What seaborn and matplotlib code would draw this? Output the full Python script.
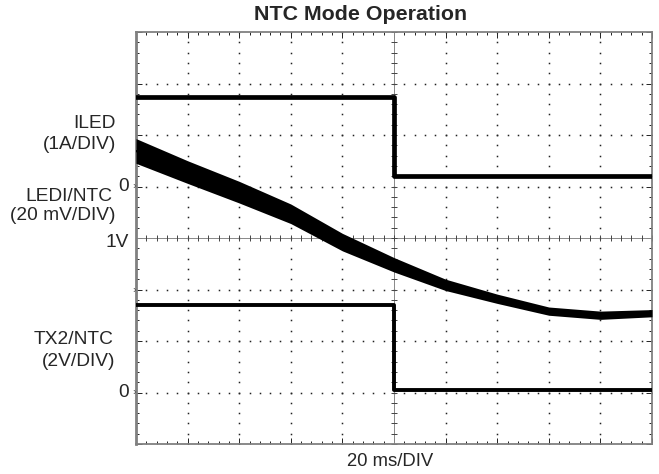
import numpy as np
import pandas as pd
import matplotlib
matplotlib.use("Agg")
import matplotlib.pyplot as plt
import seaborn as sns

# ---- data (screen divisions: x 0..10 = 20 ms/DIV, y 0..8) ----
x_div = [0, 1, 2, 3, 4, 5, 6, 7, 8, 9, 10]
# LEDI/NTC trace: centre of the noisy band and its half-thickness
ledi_center = [5.69, 5.28, 4.89, 4.47, 3.92, 3.48, 3.09, 2.82, 2.58, 2.50, 2.54]
ledi_half = [0.24, 0.22, 0.21, 0.19, 0.17, 0.14, 0.11, 0.09, 0.08, 0.08, 0.07]

step_time = [0, 5, 5, 10]
iled_level = [6.74, 6.74, 5.20, 5.20]      # ILED (1 A/DIV), zero at 5 div
tx2_level = [2.70, 2.70, 1.05, 1.05]       # TX2/NTC (2 V/DIV), zero at 1 div

ch_labels = ["ILED", "(1A/DIV)", "LEDI/NTC", "(20 mV/DIV)", "TX2/NTC", "(2V/DIV)"]
ref_labels = ["0", "1V", "0"]
ref_levels = [5.0, 3.92, 1.0]
marker_levels = [5.0, 3.0, 1.0]

sns.set_theme(style="white")
plt.rcParams["font.family"] = ["Liberation Sans", "DejaVu Sans"]

fig = plt.figure(figsize=(6.59, 4.74), dpi=100)
ax = fig.add_axes([136 / 659, 1 - 444 / 474, 516 / 659, 412 / 474])
ax.set_xlim(0, 10)
ax.set_ylim(0, 8)

# dotted graticule
fine = np.arange(0, 10.001, 0.2)
fine_y = np.arange(0, 8.001, 0.2)
for yv in [1, 2, 3, 5, 6, 7]:
    ax.plot(fine, np.full_like(fine, yv), ls="none", marker="s", ms=1.1,
            color="#222222", mew=0, zorder=1)
for xv in [1, 2, 3, 4, 6, 7, 8, 9]:
    ax.plot(np.full_like(fine_y, xv), fine_y, ls="none", marker="s", ms=1.1,
            color="#222222", mew=0, zorder=1)
# centre crosshair with minor ticks
ax.axhline(4, color="#888888", lw=0.7, zorder=1)
ax.axvline(5, color="#888888", lw=0.7, zorder=1)
ax.plot(fine, np.full_like(fine, 4), ls="none", marker="|", ms=4, mew=0.7,
        color="#444444", zorder=1)
ax.plot(np.full_like(fine_y, 5), fine_y, ls="none", marker="_", ms=4, mew=0.7,
        color="#444444", zorder=1)

# traces
df_led = pd.DataFrame({"t": x_div, "v": ledi_center})
lo = np.array(ledi_center) - np.array(ledi_half)
hi = np.array(ledi_center) + np.array(ledi_half)
ax.fill_between(x_div, lo, hi, color="black", lw=0, zorder=3)
sns.lineplot(data=df_led, x="t", y="v", ax=ax, color="black", lw=1.5, zorder=3)

df_i = pd.DataFrame({"t": step_time, "v": iled_level})
df_t = pd.DataFrame({"t": step_time, "v": tx2_level})
sns.lineplot(data=df_i, x="t", y="v", ax=ax, color="black", lw=3.4,
             sort=False, estimator=None, zorder=3)
sns.lineplot(data=df_t, x="t", y="v", ax=ax, color="black", lw=2.8,
             sort=False, estimator=None, zorder=3)
# thin vertical edges
ax.plot([5, 5], [iled_level[1], iled_level[2]], color="black", lw=1.0, zorder=4)
ax.plot([5, 5], [tx2_level[1], tx2_level[2]], color="black", lw=1.0, zorder=4)

# frame and inward ticks
for s in ax.spines.values():
    s.set_color("#808080")
    s.set_linewidth(1.3)
ax.spines["left"].set_linewidth(2.0)
ax.set_xticks(range(0, 11))
ax.set_yticks(range(0, 9))
ax.set_xticks(fine, minor=True)
ax.set_yticks(fine_y, minor=True)
ax.tick_params(which="both", direction="in", top=True, right=True, bottom=True,
               left=True, labelbottom=False, labelleft=False, color="#222222",
               width=0.7)
ax.tick_params(which="major", length=4)
ax.tick_params(which="minor", length=2.5)
ax.set_xlabel("")
ax.set_ylabel("")

# chevrons at channel references
for yv in marker_levels:
    fig.text(134 / 659, 1 - (444 - yv * 51.5) / 474, "›", fontsize=8,
             color="#555555", ha="center", va="center")

# labels (figure pixel coordinates)
def ftxt(xp, yp, s, **kw):
    fig.text(xp / 659, 1 - yp / 474, s, **kw)

fs = 13.8
ftxt(116, 124, ch_labels[0], fontsize=fs, ha="right", va="center")
ftxt(116, 144, ch_labels[1], fontsize=fs, ha="right", va="center")
ftxt(112, 197, ch_labels[2], fontsize=fs, ha="right", va="center")
ftxt(116, 216, ch_labels[3], fontsize=fs, ha="right", va="center")
ftxt(113, 340, ch_labels[4], fontsize=fs, ha="right", va="center")
ftxt(115, 362, ch_labels[5], fontsize=fs, ha="right", va="center")
for lab, lv in zip(ref_labels, ref_levels):
    ftxt(129, 444 - lv * 51.5, lab, fontsize=fs, ha="right", va="center")

ftxt(361, 15, "NTC Mode Operation", fontsize=15.4, fontweight="bold",
     ha="center", va="center")
ftxt(390, 461, "20 ms/DIV", fontsize=13.3, ha="center", va="center")

fig.savefig("out.png", dpi=100)
